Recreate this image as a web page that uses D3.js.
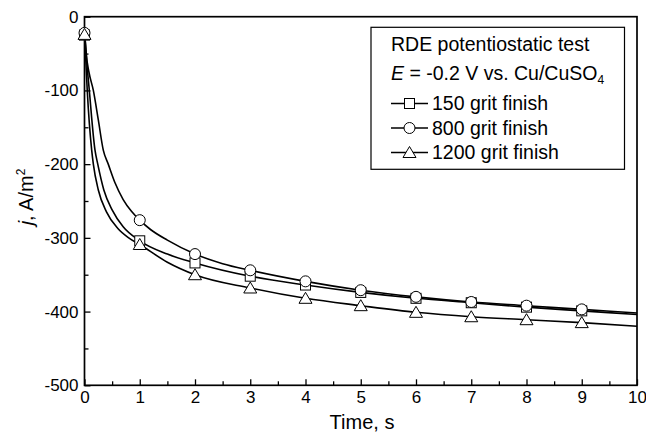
<!DOCTYPE html>
<html><head><meta charset="utf-8">
<script src="https://cdn.jsdelivr.net/npm/d3@7"></script>
<style>
html,body{margin:0;padding:0;background:#fff;}
svg{display:block;font-family:"Liberation Sans",Arial,sans-serif;}
</style></head>
<body>
<svg id="c" width="646" height="433"></svg>
<script>
// ---- data ----
const xTicks = [0,1,2,3,4,5,6,7,8,9,10];
const yTicks = [0,-100,-200,-300,-400,-500];
const seriesNames = ["150 grit finish","800 grit finish","1200 grit finish"];
const markerTimes = [0,1,2,3,4,5,6,7,8,9];
const marker150  = [-25,-304,-334,-352,-364,-374,-382,-388,-394,-399];
const marker800  = [-22,-276,-322,-344,-359,-371,-380,-387,-392,-397];
const marker1200 = [-24,-309,-350,-368,-382,-392,-401,-407,-411,-415];
const curveT150  = [0,0.02,0.04,0.087,0.19,0.24,0.35,0.5,0.7,1,1.5,2,3,4,5,6,7,8,9,10];
const curveJ150  = [-20,-38,-60,-100,-181,-200,-235,-262,-285,-304,-322,-334,-352,-364,-374,-382,-388,-394,-399,-404];
const curveT800  = [0,0.03,0.08,0.16,0.25,0.34,0.43,0.55,0.7,0.85,1,1.2,1.5,2,2.5,3,4,5,6,7,8,9,10];
const curveJ800  = [-20,-50,-75,-100,-140,-181,-200,-225,-248,-264,-276,-289,-303,-322,-335,-344,-359,-371,-380,-387,-392,-397,-402];
const curveT1200 = [0,0.015,0.03,0.05,0.13,0.16,0.25,0.4,0.6,0.8,1,1.5,2,3,4,5,6,7,8,9,10];
const curveJ1200 = [-20,-45,-70,-100,-181,-200,-235,-265,-287,-300,-309,-333,-350,-368,-382,-392,-401,-407,-411,-415,-420];

const svg = d3.select("#c");
const L=84.5, R=637, T=16.7, B=385.3;
const x = d3.scaleLinear().domain([0,10]).range([L,R]);
const y = d3.scaleLinear().domain([0,-500]).range([T,B]);
const fmt = d => String(d);

// axes
const gx = svg.append("g").attr("transform",`translate(0,${B})`)
  .call(d3.axisBottom(x).tickValues(xTicks).tickSizeInner(-6).tickSizeOuter(0).tickPadding(6).tickFormat(fmt));
const gxm = svg.append("g").attr("transform",`translate(0,${B})`)
  .call(d3.axisBottom(x).tickValues(d3.range(0.5,10,1)).tickSizeInner(-4).tickSizeOuter(0).tickFormat(""));
const gy = svg.append("g").attr("transform",`translate(${L},0)`)
  .call(d3.axisLeft(y).tickValues(yTicks).tickSizeInner(-6).tickSizeOuter(0).tickPadding(6).tickFormat(fmt));
const gym = svg.append("g").attr("transform",`translate(${L},0)`)
  .call(d3.axisLeft(y).tickValues(d3.range(-50,-500,-100)).tickSizeInner(-4).tickSizeOuter(0).tickFormat(""));
[gx,gxm,gy,gym].forEach(g=>{
  g.selectAll(".domain").remove();
  g.selectAll("line").attr("stroke","#000").attr("stroke-width",1.3);
  g.selectAll("text").attr("font-size",17).attr("fill","#000").attr("font-family","Liberation Sans, Arial, sans-serif");
});
svg.append("rect").attr("x",L).attr("y",T).attr("width",R-L).attr("height",B-T)
  .attr("fill","none").attr("stroke","#000").attr("stroke-width",1.7);

// curves
const line = d3.line().x(d=>x(d[0])).y(d=>y(d[1])).curve(d3.curveMonotoneX);
const curves = [
  d3.zip(curveT150,curveJ150),
  d3.zip(curveT800,curveJ800),
  d3.zip(curveT1200,curveJ1200)
];
curves.forEach(c=>{
  svg.append("path").attr("d",line(c)).attr("fill","none").attr("stroke","#000").attr("stroke-width",1.6);
});

// markers
function drawMarker(g,type,cx,cy){
  if(type===0) g.append("rect").attr("x",cx-5).attr("y",cy-5).attr("width",10).attr("height",10)
      .attr("fill","#fff").attr("stroke","#000").attr("stroke-width",1);
  else if(type===1) g.append("circle").attr("cx",cx).attr("cy",cy).attr("r",5.5)
      .attr("fill","#fff").attr("stroke","#000").attr("stroke-width",1);
  else g.append("path").attr("d",`M${cx},${cy-6}L${cx+6.5},${cy+5}L${cx-6.5},${cy+5}Z`)
      .attr("fill","#fff").attr("stroke","#000").attr("stroke-width",1);
}
const markers=[marker150,marker800,marker1200];
const mg = svg.append("g");
markers.forEach((m,i)=>{
  markerTimes.forEach((t,k)=>drawMarker(mg,i,x(t),y(m[k])));
});

// legend
const lg = svg.append("g");
lg.append("rect").attr("x",371).attr("y",27.3).attr("width",253.5).attr("height",142)
  .attr("fill","#fff").attr("stroke","#000").attr("stroke-width",1.2);
lg.append("text").attr("x",391).attr("y",51).attr("font-size",19.5).text("RDE potentiostatic test");
const t2 = lg.append("text").attr("x",391).attr("y",80).attr("font-size",19.5);
t2.append("tspan").attr("font-style","italic").text("E");
t2.append("tspan").text(" = -0.2 V vs. Cu/CuSO");
t2.append("tspan").attr("font-size",12).attr("dy",4).text("4");
seriesNames.forEach((n,i)=>{
  const by = 110 + i*24.5, my = by-6.5;
  lg.append("line").attr("x1",391).attr("x2",428).attr("y1",my).attr("y2",my).attr("stroke","#000").attr("stroke-width",1.3);
  drawMarker(lg,i,409.5,my);
  lg.append("text").attr("x",432).attr("y",by).attr("font-size",19.5).text(n);
});

// axis titles
svg.append("text").attr("x",362).attr("y",429).attr("text-anchor","middle").attr("font-size",20).text("Time, s");
const yt = svg.append("text").attr("transform",`translate(33,197) rotate(-90)`).attr("text-anchor","middle").attr("font-size",20);
yt.append("tspan").attr("font-style","italic").text("j");
yt.append("tspan").text(", A/m");
yt.append("tspan").attr("font-size",12).attr("dy",-8).text("2");
</script>
</body></html>
